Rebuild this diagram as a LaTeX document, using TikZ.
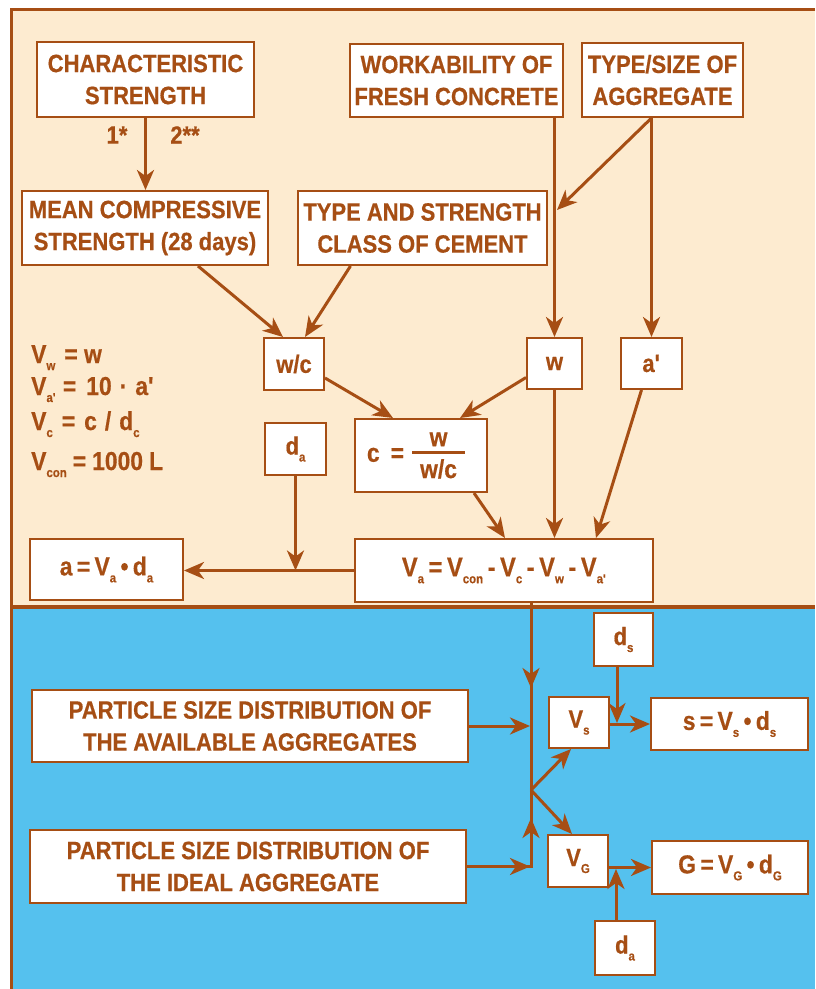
\documentclass[tikz,border=0pt]{standalone}
\usepackage{fontspec}
\setmainfont{Liberation Sans}[FakeStretch=0.88, BoldFeatures={FakeBold=0.5}]
\usetikzlibrary{arrows.meta}
\definecolor{brn}{RGB}{166,78,20}
\definecolor{beige}{RGB}{253,235,208}
\definecolor{sky}{RGB}{85,193,238}
\newcommand\subx[1]{\raisebox{-7pt}{\fontsize{13}{13}\selectfont #1}}
\newcommand\frc[2]{$\vcenter{\hsize=53pt\hbox to 53pt{\hss #1\hss}\kern5pt\hrule height 3pt\kern5pt\hbox to 53pt{\hss #2\hss}}$}
\begin{document}
\begin{tikzpicture}[x=1pt,y=-1pt,
 box/.style={draw=brn, line width=2pt, fill=white, inner sep=0pt, align=center, text=brn, font=\fontsize{25}{32}\selectfont\bfseries},
 eq/.style={box, font=\fontsize{26}{32}\selectfont\bfseries},
 lab/.style={text=brn, inner sep=0pt, font=\fontsize{26}{32}\selectfont\bfseries},
 arr/.style={draw=brn, line width=3pt, -{Stealth[length=20pt,width=17pt,inset=6pt]}},
 ln/.style={draw=brn, line width=3pt},
]
\useasboundingbox (0,0) rectangle (815,989);
% background
\fill[beige] (10,8) rectangle (815,607);
\fill[sky] (10,607) rectangle (815,989);
\draw[brn, line width=3pt] (815,9.5) -- (11.5,9.5) -- (11.5,989);
\draw[brn, line width=3.5pt] (11.5,607) -- (815,607);

% top nodes
\node[box, minimum width=217, minimum height=75] (char) at (145.5,79.5) {CHARACTERISTIC\\STRENGTH};
\node[box, minimum width=213, minimum height=73] (work) at (456.5,80.5) {WORKABILITY OF\\FRESH CONCRETE};
\node[box, minimum width=161, minimum height=74] (type) at (662.5,80) {TYPE/SIZE OF\\AGGREGATE};
\node[box, minimum width=246, minimum height=74] (mean) at (145,228) {MEAN COMPRESSIVE\\STRENGTH (28 days)};
\node[box, minimum width=249, minimum height=74] (cement) at (422.5,228) {TYPE AND STRENGTH\\CLASS OF CEMENT};
\node[lab, font=\fontsize{25}{32}\selectfont\bfseries] (n1) at (117,135) {1*};
\node[lab, font=\fontsize{25}{32}\selectfont\bfseries] (n2) at (185,135) {2**};

\node[box, minimum width=60, minimum height=52] (wc) at (294,364) {w/c};
\node[box, minimum width=55, minimum height=51] (w) at (554.5,363.5) {w};
\node[box, minimum width=61, minimum height=51] (ap) at (651.5,363.5) {a\textquotesingle};
\node[box, minimum width=61, minimum height=52] (da) at (295.5,449) {d\subx{a}};
\node[eq, minimum width=132, minimum height=73] (c) at (421,455.5) {c\hspace{11pt}=\hspace{8pt}\frc{w}{w/c}\hspace{10pt}};
\node[eq, minimum width=298, minimum height=63, font=\fontsize{27}{32}\selectfont\bfseries] (Va) at (504,570.5) {V\subx{a}\,=\,V\subx{con}\,-\,V\subx{c}\,-\,V\subx{w}\,-\,V\subx{a\textquotesingle}};
\node[eq, minimum width=153, minimum height=61] (a) at (106.5,569.5) {a\,=\,V\subx{a}\,•\,d\subx{a}};

% formulas
\node[lab, anchor=base west] (f1) at (31,363) {V\subx{w}\hspace{9pt}= w};
\node[lab, anchor=base west] (f2) at (31,395) {V\subx{a\textquotesingle}\hspace{7pt}=\hspace{10pt}10\hspace{8pt}·\hspace{8pt}a\textquotesingle};
\node[lab, anchor=base west] (f3) at (31,430) {V\subx{c}\hspace{9pt}=\hspace{9pt}c\hspace{8pt}/\hspace{8pt}d\subx{c}};
\node[lab, anchor=base west] (f4) at (31,470) {V\subx{con}\hspace{6pt}=\hspace{6pt}1000\hspace{6pt}L};

% bottom nodes
\node[box, minimum width=59, minimum height=53] (ds) at (623.5,639.5) {d\subx{s}};
\node[box, minimum width=60, minimum height=51] (Vs) at (579,722.5) {V\subx{s}};
\node[eq, minimum width=157, minimum height=52] (s) at (729.5,724) {s\,=\,V\subx{s}\,•\,d\subx{s}};
\node[box, minimum width=60, minimum height=52] (VG) at (578,861) {V\subx{G}};
\node[eq, minimum width=156, minimum height=53] (G) at (730,867.5) {G\,=\,V\subx{G}\,•\,d\subx{G}};
\node[box, minimum width=60, minimum height=54] (da2) at (625,948) {d\subx{a}};
\node[box, minimum width=436, minimum height=72] (pa) at (250,726) {PARTICLE SIZE DISTRIBUTION OF\\THE AVAILABLE AGGREGATES};
\node[box, minimum width=436, minimum height=73] (pi) at (248,866.5) {PARTICLE SIZE DISTRIBUTION OF\\THE IDEAL AGGREGATE};

% connectors top
\draw[arr] (char.south) -- (char.south |- mean.north);
\coordinate (tp) at (ap.north |- type.south);
\coordinate (j1) at (557,210);
\draw[arr] (w.north |- work.south) -- (w.north);
\draw[arr] (tp) -- (ap.north);
\draw[arr] (tp) -- (j1);
\draw[arr] ([xshift=53pt]mean.south) -- ([xshift=-11pt]wc.north);
\draw[arr] ([xshift=-72pt]cement.south) -- ([xshift=11pt]wc.north);
\draw[arr] ([yshift=-14pt]wc.east) -- ([xshift=-28pt]c.north);
\draw[arr] ([yshift=-14pt]w.west) -- ([xshift=39pt]c.north);
\draw[arr] ([xshift=53pt]c.south) -- ([xshift=1pt]Va.north);
\draw[arr] (w.south) -- (w.south |- Va.north);
\draw[arr] ([xshift=-10pt]ap.south) -- ([xshift=92pt]Va.north);
\draw[arr] (da.south) -- (da.south |- Va.west);
\draw[arr] (Va.west) -- (a.east |- Va.west);

% connectors bottom
\coordinate (vt) at ([xshift=27pt]Va.south);
\coordinate (jn) at (531,790);
\coordinate (jb) at (531,866.5);
\coordinate (ja) at (531,726);
\draw[ln] (vt) -- (jn);
\draw[arr] (vt) -- (531,688);
\draw[ln] (pi.east) -- (jb) -- (jn);
\draw[arr] (jb) -- (531,818);
\draw[arr] (pa.east) -- ([xshift=-1pt]ja);
\draw[arr] (pi.east) -- ([xshift=-1pt]jb);
\draw[arr] (jn) -- ([xshift=-8pt]Vs.south);
\draw[arr] (jn) -- ([xshift=-6pt]VG.north);
\draw[arr] (Vs.east |- s.west) -- (s.west);
\coordinate (dsj) at (617,723);
\draw[arr] (dsj |- ds.south) -- (dsj);
\draw[arr] (VG.east |- G.west) -- (G.west);
\coordinate (dgj) at (616,869);
\draw[arr] (dgj |- da2.north) -- (dgj);
\end{tikzpicture}
\end{document}
